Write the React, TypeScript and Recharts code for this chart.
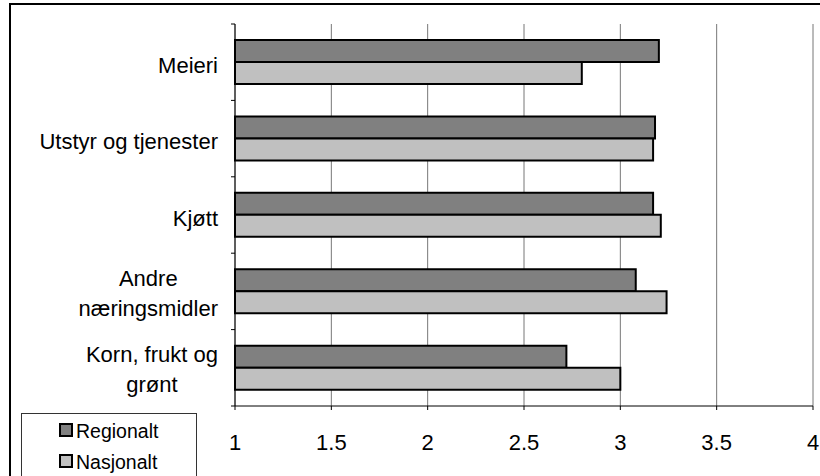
import React from 'react';
import { BarChart, Bar, XAxis, YAxis, CartesianGrid, Legend } from 'recharts';

const categories = [
  'Meieri',
  'Utstyr og tjenester',
  'Kjøtt',
  'Andre\nnæringsmidler',
  'Korn, frukt og\ngrønt',
];
const regionalt = [3.2, 3.18, 3.17, 3.08, 2.72];
const nasjonalt = [2.8, 3.17, 3.21, 3.24, 3.0];
const xTicks = [1, 1.5, 2, 2.5, 3, 3.5, 4];
const seriesNames = ['Regionalt', 'Nasjonalt'];

const FONT = '"Liberation Sans", Arial, sans-serif';
const FILL_REG = '#808080';
const FILL_NAS = '#C0C0C0';

const data = categories.map((name, i) => ({
  name,
  Regionalt: regionalt[i],
  Nasjonalt: nasjonalt[i],
}));

let ctx: CanvasRenderingContext2D | null = null;
function measure(text: string, size: number) {
  if (!ctx) ctx = document.createElement('canvas').getContext('2d');
  if (!ctx) return text.length * size * 0.5;
  ctx.font = `${size}px ${FONT}`;
  return ctx.measureText(text).width;
}

const CategoryTick = (props: any) => {
  const { x, y, payload, index, height } = props;
  const band = (height || 382) / categories.length;
  const lines = String(payload.value).split('\n');
  const right = x - 17;
  const size = 22;
  let texts;
  if (lines.length === 1) {
    texts = (
      <text x={right} y={y + 10.5} textAnchor="end" fontSize={size} fontFamily={FONT} fill="#000">
        {lines[0]}
      </text>
    );
  } else {
    const w = Math.max(...lines.map((l) => measure(l, size)));
    const cx = right - w / 2;
    texts = lines.map((l, i) => (
      <text key={i} x={cx} y={y - 5.5 + i * 30} textAnchor="middle" fontSize={size} fontFamily={FONT} fill="#000">
        {l}
      </text>
    ));
  }
  return (
    <g>
      <line x1={x - 4} x2={x} y1={y - band / 2} y2={y - band / 2} stroke="#000" strokeWidth={1} />
      {index === categories.length - 1 && (
        <line x1={x - 4} x2={x} y1={y + band / 2} y2={y + band / 2} stroke="#000" strokeWidth={1} />
      )}
      {texts}
    </g>
  );
};

const ValueTick = (props: any) => {
  const { x, y, payload } = props;
  return (
    <text x={x} y={y + 40} textAnchor="middle" fontSize={22} fontFamily={FONT} fill="#000">
      {String(payload.value)}
    </text>
  );
};

const LegendBox = () => (
  <svg width={176} height={70} style={{ display: 'block' }}>
    <rect x={0.5} y={0.5} width={175} height={75} fill="#fff" stroke="#333" strokeWidth={1} />
    {seriesNames.map((label, i) => (
      <g key={label}>
        <rect x={39} y={11 + i * 31} width={12} height={12} fill={i === 0 ? FILL_REG : FILL_NAS} stroke="#000" strokeWidth={2} />
        <text x={55} y={25 + i * 31} fontSize={19.5} fontFamily={FONT} fill="#000">
          {label}
        </text>
      </g>
    ))}
  </svg>
);

export default function App() {
  return (
    <div style={{ position: 'absolute', left: 0, top: 0, width: 820, height: 476, overflow: 'hidden', background: '#fff' }}>
      <div
        style={{
          position: 'absolute',
          left: 9,
          top: 3,
          width: 830,
          height: 500,
          border: '2px solid #000',
          boxSizing: 'border-box',
        }}
      />
      <BarChart
        width={820}
        height={476}
        data={data}
        layout="vertical"
        margin={{ top: 24, right: 7, bottom: 0, left: 0 }}
        barCategoryGap="21%"
        barGap={0}
        style={{ position: 'absolute', left: 0, top: 0 }}
      >
        <CartesianGrid horizontal={false} stroke="#777" strokeWidth={1} />
        <XAxis
          type="number"
          dataKey="Regionalt"
          domain={[1, 4]}
          ticks={xTicks}
          height={70}
          stroke="#000"
          tickSize={4}
          tickMargin={0}
          tick={<ValueTick />}
          interval={0}
        />
        <XAxis
          xAxisId="top"
          type="number"
          orientation="top"
          domain={[1, 4]}
          height={0}
          tick={false}
          tickLine={false}
          stroke="#808080"
        />
        <YAxis
          type="category"
          dataKey="name"
          width={235}
          stroke="#000"
          tickLine={false}
          tickSize={0}
          tickMargin={0}
          tick={<CategoryTick />}
          interval={0}
        />
        <Legend
          layout="vertical"
          align="center"
          verticalAlign="middle"
          content={<LegendBox />}
          wrapperStyle={{ left: 21, top: 413, width: 176, height: 70 }}
        />
        <Bar dataKey="Regionalt" fill={FILL_REG} stroke="#000" strokeWidth={2} isAnimationActive={false} />
        <Bar dataKey="Nasjonalt" fill={FILL_NAS} stroke="#000" strokeWidth={2} isAnimationActive={false} />
      </BarChart>
    </div>
  );
}
